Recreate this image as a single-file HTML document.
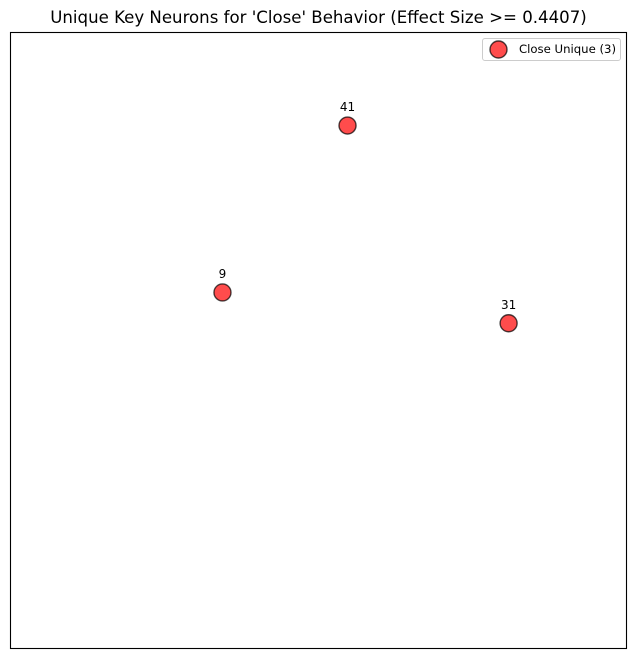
<!DOCTYPE html>
<html lang="en">
<head>
<meta charset="utf-8">
<title>Unique Key Neurons</title>
<style>
html,body{margin:0;padding:0;background:#fff;width:636px;height:658px;overflow:hidden}
svg{display:block;font-family:"DejaVu Sans","Liberation Sans",sans-serif}
</style>
</head>
<body>
<svg id="chart" width="636" height="658" viewBox="0 0 636 658" xmlns="http://www.w3.org/2000/svg">
  <rect x="0" y="0" width="636" height="658" fill="#fff"/>
  <text x="318.5" y="23" font-size="16.6" text-anchor="middle" fill="#000">Unique Key Neurons for 'Close' Behavior (Effect Size &gt;= 0.4407)</text>
  <rect x="10.5" y="32.5" width="616" height="616" fill="none" stroke="#000" stroke-width="1.1"/>
  <g id="points"></g>
  <g>
    <rect x="482.5" y="38.5" width="138" height="22" rx="2.5" fill="#fff" fill-opacity="0.8" stroke="#ccc" stroke-width="1"/>
    <circle cx="498.5" cy="49.5" r="8.5" fill="#ff0000" fill-opacity="0.7" stroke="#000" stroke-opacity="0.7" stroke-width="1.39"/>
    <text x="519" y="53" font-size="11.7" fill="#000">Close Unique (3)</text>
  </g>
</svg>
<script>
const neuronIds = [41, 9, 31];
const xValues = [0.5455, 0.3425, 0.807];
const yValues = [0.849, 0.578, 0.528];

const plotLeft = 11.5, plotTop = 32.5, plotSize = 616;
function xScale(v) { return plotLeft + v * plotSize; }
function yScale(v) { return plotTop + (1 - v) * plotSize; }

const svgNS = 'http://www.w3.org/2000/svg';
const group = document.getElementById('points');
neuronIds.forEach(function (id, i) {
  const cx = xScale(xValues[i]);
  const cy = yScale(yValues[i]);

  const dot = document.createElementNS(svgNS, 'circle');
  
  
  dot.setAttribute('cx', cx);
  dot.setAttribute('cy', cy);
  dot.setAttribute('r', 8.5);
  dot.setAttribute('fill', '#ff0000');
  dot.setAttribute('fill-opacity', 0.7);
  dot.setAttribute('stroke', '#000');
  dot.setAttribute('stroke-opacity', 0.7);
  dot.setAttribute('stroke-width', 1.39);
  group.appendChild(dot);

  const label = document.createElementNS(svgNS, 'text');
  
  
  label.setAttribute('x', cx);
  label.setAttribute('y', cy - 14.5);
  label.setAttribute('font-size', 12);
  label.setAttribute('text-anchor', 'middle');
  label.setAttribute('fill', '#000');
  label.textContent = String(id);
  group.appendChild(label);
});
</script>
</body>
</html>
